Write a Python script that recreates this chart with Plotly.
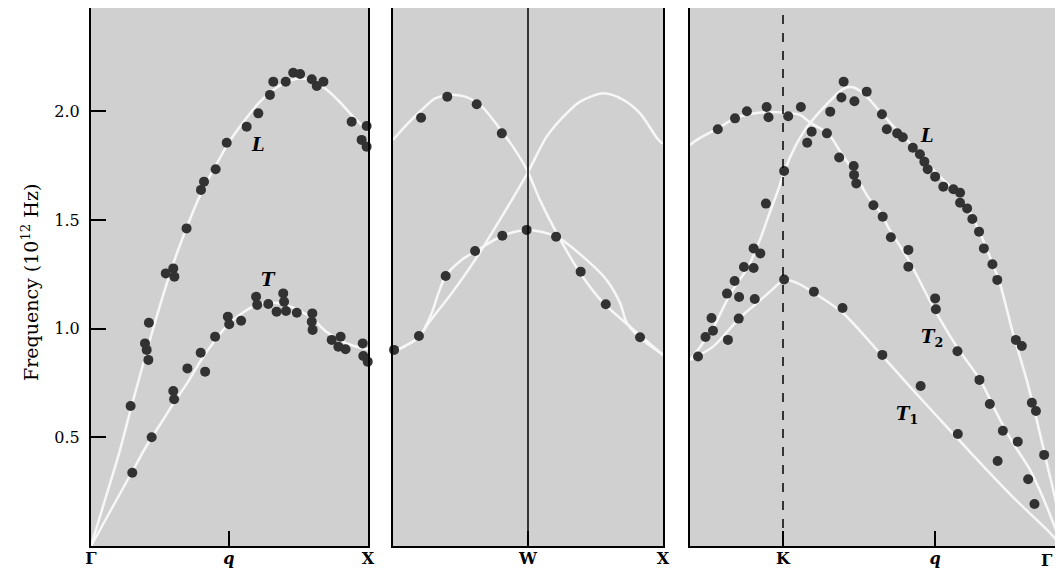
import plotly.graph_objects as go

# ---------------- data (reduced wavevector, frequency in 1e12 Hz) ----------------
# Panel 1: Gamma -> X  (q from 0 at Gamma to 1 at X)
p1_L_q = [0.143, 0.195, 0.201, 0.207, 0.209, 0.270, 0.297, 0.301, 0.345, 0.397, 0.408, 0.450,
          0.490, 0.562, 0.604, 0.646, 0.658, 0.703, 0.730, 0.755, 0.797, 0.815, 0.839, 0.941,
          0.995, 0.977, 1.001, 0.995]
p1_L_f = [0.644, 0.932, 0.902, 0.856, 1.027, 1.254, 1.277, 1.239, 1.461, 1.638, 1.676, 1.733,
          1.855, 1.929, 1.990, 2.075, 2.136, 2.136, 2.177, 2.171, 2.147, 2.116, 2.136, 1.952,
          1.932, 1.868, 1.883, 1.837]
p1_T_q = [0.149, 0.219, 0.297, 0.300, 0.348, 0.396, 0.412, 0.448, 0.494, 0.499, 0.542, 0.596,
          0.600, 0.640, 0.670, 0.694, 0.697, 0.704, 0.743, 0.799, 0.797, 0.800, 0.869, 0.901,
          0.893, 0.919, 0.981, 1.005, 0.983, 0.999]
p1_T_f = [0.337, 0.500, 0.713, 0.675, 0.817, 0.889, 0.802, 0.963, 1.055, 1.020, 1.036, 1.147,
          1.109, 1.113, 1.078, 1.162, 1.124, 1.081, 1.073, 1.070, 1.032, 0.994, 0.948, 0.963,
          0.917, 0.905, 0.932, 0.935, 0.874, 0.848]
p1_curveL_q = [0, 0.05, 0.10, 0.15, 0.20, 0.25, 0.30, 0.35, 0.40, 0.45, 0.50, 0.55, 0.60, 0.65,
               0.70, 0.75, 0.80, 0.85, 0.90, 0.95, 1.00]
p1_curveL_f = [0, 0.21, 0.42, 0.66, 0.89, 1.11, 1.31, 1.48, 1.63, 1.75, 1.86, 1.95, 2.03, 2.09,
               2.13, 2.15, 2.14, 2.10, 2.04, 1.97, 1.91]
p1_curveT_q = [0, 0.05, 0.10, 0.15, 0.20, 0.25, 0.30, 0.35, 0.40, 0.45, 0.50, 0.55, 0.60, 0.65,
               0.70, 0.75, 0.80, 0.85, 0.90, 0.95, 1.00]
p1_curveT_f = [0, 0.115, 0.23, 0.345, 0.46, 0.56, 0.66, 0.755, 0.86, 0.95, 1.025, 1.075, 1.11,
               1.12, 1.11, 1.085, 1.045, 0.985, 0.945, 0.92, 0.905]

# Panel 2: X -> W -> X  (0 at X, 0.5 at W, 1 at X)
p2_dots_q = [0.004, 0.096, 0.195, 0.304, 0.405, 0.495, 0.104, 0.201, 0.310, 0.403,
             0.604, 0.695, 0.788, 0.915]
p2_dots_f = [0.902, 0.966, 1.242, 1.357, 1.427, 1.454, 1.970, 2.067, 2.032, 1.898,
             1.423, 1.262, 1.112, 0.960]
p2_curveA_q = [0, 0.044, 0.106, 0.156, 0.205, 0.267, 0.329, 0.390, 0.452, 0.500, 0.544, 0.606,
               0.693, 0.779, 0.878, 1.0]
p2_curveA_f = [1.868, 1.929, 2.006, 2.059, 2.075, 2.067, 2.021, 1.929, 1.822, 1.720, 1.592, 1.440,
               1.256, 1.118, 1.009, 0.879]
p2_curveB_q = [0, 0.096, 0.131, 0.217, 0.304, 0.403, 0.500, 0.569, 0.631, 0.693, 0.779, 0.853,
               0.915, 0.983, 1.0]
p2_curveB_f = [0.892, 0.961, 1.024, 1.162, 1.316, 1.515, 1.720, 1.883, 1.975, 2.044, 2.082, 2.052,
               1.990, 1.868, 1.850]
p2_curveC_q = [0, 0.096, 0.143, 0.168, 0.195, 0.254, 0.304, 0.405, 0.500, 0.606, 0.717, 0.791,
               0.841, 0.866, 0.915, 1.0]
p2_curveC_f = [0.892, 0.961, 1.070, 1.162, 1.242, 1.316, 1.354, 1.427, 1.454, 1.423, 1.316, 1.224,
               1.118, 1.026, 0.957, 0.879]

# Panel 3: X -> K -> Gamma  (0 at X, 0.25 at K, 1 at Gamma)
p3_XK_q = [0.0215, 0.0417, 0.0618, 0.0578, 0.102, 0.131, 0.0995, 0.132, 0.174, 0.120, 0.145,
           0.171, 0.171, 0.189, 0.204, 0.253, 0.253, 0.0747, 0.121, 0.153, 0.206, 0.211, 0.264,
           0.298]
p3_XK_f = [0.872, 0.961, 0.990, 1.049, 0.948, 1.046, 1.161, 1.145, 1.136, 1.219, 1.283,
           1.279, 1.369, 1.346, 1.575, 1.725, 1.226, 1.917, 1.967, 2.000, 2.019, 1.972, 1.977,
           2.019]
p3_L_q = [0.327, 0.368, 0.315, 0.377, 0.413, 0.407, 0.442, 0.475, 0.516, 0.529, 0.557, 0.572,
          0.599, 0.618, 0.630, 0.639, 0.659, 0.681, 0.708, 0.726, 0.726, 0.745, 0.759, 0.777,
          0.790, 0.813, 0.826, 0.876, 0.892, 0.919, 0.930, 0.952]
p3_L_f = [1.906, 1.898, 1.855, 1.998, 2.136, 2.063, 2.046, 2.090, 1.986, 1.917, 1.898, 1.880,
          1.832, 1.802, 1.768, 1.733, 1.699, 1.653, 1.641, 1.625, 1.579, 1.553, 1.504, 1.446,
          1.369, 1.296, 1.224, 0.948, 0.920, 0.659, 0.621, 0.419]
p3_T2_q = [0.401, 0.440, 0.441, 0.447, 0.493, 0.518, 0.540, 0.587, 0.587, 0.659, 0.661, 0.719,
           0.778, 0.806, 0.841, 0.881, 0.909, 0.926]
p3_T2_f = [1.787, 1.748, 1.707, 1.668, 1.567, 1.515, 1.420, 1.362, 1.285, 1.139, 1.089, 0.896,
           0.764, 0.653, 0.530, 0.480, 0.307, 0.193]
p3_T1_q = [0.333, 0.410, 0.517, 0.620, 0.720, 0.827]
p3_T1_f = [1.170, 1.095, 0.879, 0.736, 0.515, 0.391]

p3_curveP_q = [0, 0.027, 0.075, 0.120, 0.161, 0.210, 0.263, 0.296, 0.326, 0.371, 0.407, 0.443,
               0.478, 0.514, 0.532, 0.591, 0.653, 0.717, 0.780, 0.824, 0.868, 0.914, 0.959, 1.0]
p3_curveP_f = [1.845, 1.877, 1.921, 1.967, 1.987, 1.996, 1.992, 1.983, 1.944, 1.898, 1.806, 1.714,
               1.607, 1.530, 1.469, 1.306, 1.101, 0.917, 0.764, 0.612, 0.474, 0.350, 0.181, 0]
p3_curveQ_q = [0, 0.027, 0.059, 0.110, 0.156, 0.188, 0.210, 0.237, 0.255, 0.282, 0.309, 0.336,
               0.371, 0.398, 0.417, 0.444, 0.475, 0.511, 0.556, 0.600, 0.654, 0.708, 0.744, 0.780,
               0.806, 0.833, 0.868, 0.905, 0.932, 0.959, 0.986, 1.0]
p3_curveQ_f = [0.856, 0.915, 0.994, 1.164, 1.283, 1.408, 1.513, 1.638, 1.730, 1.835, 1.914, 1.973,
               2.038, 2.084, 2.107, 2.107, 2.067, 1.998, 1.914, 1.837, 1.730, 1.638, 1.561, 1.438,
               1.331, 1.208, 0.980, 0.764, 0.580, 0.382, 0.181, 0]
p3_curveT1_q = [0, 0.062, 0.134, 0.175, 0.215, 0.254, 0.290, 0.335, 0.411, 0.511, 0.599, 0.691,
                0.780, 0.868, 0.960, 1.0]
p3_curveT1_f = [0.856, 0.917, 1.050, 1.110, 1.170, 1.224, 1.208, 1.162, 1.072, 0.886, 0.718, 0.547,
                0.382, 0.225, 0.074, 0]

y_ticks = [0.5, 1.0, 1.5, 2.0]
p1_xticks = [0, 0.498, 1.0]
p1_xlabels = ["Γ", "<i>q</i>", "X"]
p2_xticks = [0.5, 1.0]
p2_xlabels = ["W", "X"]
p3_xticks = [0.25, 0.659]
p3_xlabels = ["K", "<i>q</i>"]
p3_end_label = "Γ"

# ---------------- styling ----------------
# page body has an 8px margin, so the figure is drawn 8px in from the window corner
OFF = 8
W, H = 1063 - 2 * OFF, 579 - 2 * OFF
BG = "#d0d0d0"
CURVE = "#f7f7f7"
DOT = "#323232"
SERIF = "DejaVu Serif"


def px(v):
    return (v - OFF) / W


def py(v):
    return 1 - (v - OFF) / H


fig = go.Figure()


def add_curve(q, f, xa, ya):
    fig.add_trace(go.Scatter(x=q, y=f, mode="lines", xaxis=xa, yaxis=ya,
                             line=dict(color=CURVE, width=2.5, shape="spline", smoothing=0.8),
                             hoverinfo="skip", showlegend=False))


def add_dots(q, f, xa, ya):
    fig.add_trace(go.Scatter(x=q, y=f, mode="markers", xaxis=xa, yaxis=ya,
                             marker=dict(color=DOT, size=10, line=dict(width=0)),
                             cliponaxis=False, showlegend=False))


add_curve(p1_curveL_q, p1_curveL_f, "x", "y")
add_curve(p1_curveT_q, p1_curveT_f, "x", "y")
add_dots(p1_L_q, p1_L_f, "x", "y")
add_dots(p1_T_q, p1_T_f, "x", "y")

add_curve(p2_curveA_q, p2_curveA_f, "x2", "y2")
add_curve(p2_curveB_q, p2_curveB_f, "x2", "y2")
add_curve(p2_curveC_q, p2_curveC_f, "x2", "y2")
add_dots(p2_dots_q, p2_dots_f, "x2", "y2")

add_curve(p3_curveP_q, p3_curveP_f, "x3", "y3")
add_curve(p3_curveQ_q, p3_curveQ_f, "x3", "y3")
add_curve(p3_curveT1_q, p3_curveT1_f, "x3", "y3")
add_dots(p3_XK_q, p3_XK_f, "x3", "y3")
add_dots(p3_L_q, p3_L_f, "x3", "y3")
add_dots(p3_T2_q, p3_T2_f, "x3", "y3")
add_dots(p3_T1_q, p3_T1_f, "x3", "y3")

ydom = [py(546), 1.0]
Y_TOP = (546 - OFF) / 217.4          # frequency at the top edge of the panels
X3_END = (1063 - OFF - 690) / 372    # panel 3 is cut by the right edge


def xax(dom, rng, vals, texts):
    return dict(domain=dom, range=rng, showgrid=False, zeroline=False,
                showline=True, mirror=True, linecolor="black", linewidth=2,
                ticks="inside", ticklen=15, tickwidth=1.5, tickcolor="black",
                tickvals=vals, ticktext=texts, ticklabelstandoff=-3,
                tickfont=dict(family=SERIF, size=16, color="black", weight="bold"),
                automargin=False, fixedrange=True)


def yax(anchor, labels):
    d = dict(domain=ydom, range=[0, Y_TOP], anchor=anchor, showgrid=False, zeroline=False,
             showline=True, mirror=True, linecolor="black", linewidth=2,
             automargin=False, fixedrange=True)
    if labels:
        d.update(ticks="inside", ticklen=15, tickwidth=1.5, tickcolor="black",
                 tickvals=y_ticks, tickformat=".1f", ticklabelstandoff=6,
                 tickfont=dict(family=SERIF, size=16, color="black"))
    else:
        d.update(ticks="", showticklabels=False)
    return d


fig.update_layout(
    width=W, height=H, margin=dict(l=0, r=0, t=0, b=0),
    paper_bgcolor="white", plot_bgcolor=BG, showlegend=False,
    xaxis=xax([px(91), px(368)], [0, 1], p1_xticks, p1_xlabels),
    xaxis2=xax([px(393), px(663)], [0, 1], p2_xticks, p2_xlabels),
    xaxis3=xax([px(690), 1.0], [0, X3_END], p3_xticks, p3_xlabels),
    yaxis=yax("x", True),
    yaxis2=yax("x2", False),
    yaxis3=yax("x3", False),
)
fig.update_layout(xaxis2=dict(anchor="y2"), xaxis3=dict(anchor="y3"))

# W line and dashed K line
fig.add_shape(type="line", xref="x2", yref="y2 domain", x0=0.5, x1=0.5, y0=0, y1=1,
              line=dict(color="black", width=1.5))
fig.add_shape(type="line", xref="x3", yref="y3 domain", x0=0.25, x1=0.25, y0=0, y1=1,
              line=dict(color="black", width=1.5, dash="dash"))

# Gamma at the (cut-off) right end of panel 3
fig.add_annotation(x=1.0, y=py(546), xref="paper", yref="paper", xanchor="right",
                   yanchor="top", yshift=-3, text=p3_end_label, showarrow=False,
                   font=dict(family=SERIF, size=16, color="black", weight="bold"))

# branch labels
lab_font = dict(family=SERIF, size=18, color="black")
for xr, yr, qx, fy, txt in [("x", "y", 0.603, 1.845, "<b><i>L</i></b>"),
                            ("x", "y", 0.639, 1.224, "<b><i>T</i></b>"),
                            ("x3", "y3", 0.637, 1.890, "<b><i>L</i></b>"),
                            ("x3", "y3", 0.651, 0.957, "<b><i>T</i><sub>2</sub></b>"),
                            ("x3", "y3", 0.583, 0.603, "<b><i>T</i><sub>1</sub></b>")]:
    fig.add_annotation(x=qx, y=fy, xref=xr, yref=yr, text=txt, showarrow=False, font=lab_font)

fig.add_annotation(x=px(30), y=py(283), xref="paper", yref="paper", textangle=-90,
                   xanchor="center", yanchor="middle",
                   text="Frequency (10<sup>12</sup> Hz)", showarrow=False,
                   font=dict(family=SERIF, size=19, color="black"))

fig.write_html("out.html")
